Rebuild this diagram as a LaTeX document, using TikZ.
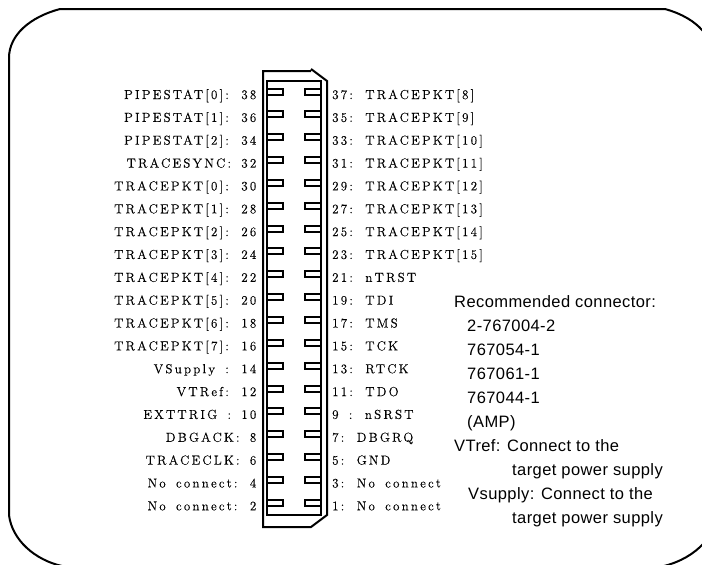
\documentclass[tikz,border=0pt]{standalone}
\usepackage{fontspec}
\newfontfamily\notefont[LetterSpace=2.5]{Liberation Sans}
\newfontfamily\pinfont[LetterSpace=17,WordSpace=1.6,FakeBold=0.25]{Latin Modern Roman}
\begin{document}
\begin{tikzpicture}[
      x=1pt,y=-1pt,
      myline/.style={draw=black,line width=2pt},
      pinlabel/.style={inner sep=0pt,font=\pinfont\fontsize{13}{15}\selectfont},
      mynote/.style={anchor=base west,inner sep=0pt,font=\notefont\fontsize{16.5}{19}\selectfont}
      ]
      \useasboundingbox (0,0) rectangle (702,565);
      % panel outline runs past the right and bottom edges
      \draw [myline] (60,9) -- (665,9) .. controls (683,14) and (695,22) .. (702,30) -- (720,50)
         -- (720,525) -- (704,543) .. controls (694,554) and (680,562) .. (664,566)
         -- (62,566) .. controls (35,560) and (12,540) .. (9,515)
         -- (9,58) .. controls (9,35) and (30,17) .. (60,9) -- cycle;

      % connector shell
      \draw [myline] (311,71) -- (263,71) -- (263,527) -- (311,527) -- (327,515) -- (327,81) -- (311,69);
      \draw [myline] (267,81) rectangle (321,515);

    \foreach \i/\txtl/\txtr in {% row/left text/right text
      0/PIPESTAT[0]: 38/37: TRACEPKT[8],
      1/PIPESTAT[1]: 36/35: TRACEPKT[9],
      2/PIPESTAT[2]: 34/33: TRACEPKT[10],
      3/TRACESYNC: 32/31: TRACEPKT[11],
      4/TRACEPKT[0]: 30/29: TRACEPKT[12],
      5/TRACEPKT[1]: 28/27: TRACEPKT[13],
      6/TRACEPKT[2]: 26/25: TRACEPKT[14],
      7/TRACEPKT[3]: 24/23: TRACEPKT[15],
      8/TRACEPKT[4]: 22/21: nTRST,
      9/TRACEPKT[5]: 20/19: TDI,
      10/TRACEPKT[6]: 18/17: TMS,
      11/TRACEPKT[7]: 16/15: TCK,
      12/VSupply : 14/13: RTCK,
      13/VTRef: 12/11: TDO,
      14/EXTTRIG : 10/9 : nSRST,
      15/DBGACK: 8/7: DBGRQ,
      16/TRACECLK: 6/5: GND,
      17/No connect: 4/3: No connect,
      18/No connect: 2/1: No connect}
    {
       \pgfmathsetmacro{\ypin}{round(91.5+22.85*\i)}
       \pgfmathsetmacro{\ytxt}{99+22.85*\i}
       \draw [myline] (267,\ypin-3) -- (283,\ypin-3) -- (283,\ypin+3) -- (267,\ypin+3);
       \draw [myline] (321,\ypin-3) -- (305,\ypin-3) -- (305,\ypin+3) -- (321,\ypin+3);
       \node [pinlabel,anchor=base east] (l\i) at (256.5,\ytxt) {\txtl};
       \node [pinlabel,anchor=base west] (r\i) at (332,\ytxt) {\txtr};
    }

    \foreach \i/\x/\y/\txt in {% name/left/baseline/text
      n1/454/307/Recommended connector:,
      n2/467/331/2-767004-2,
      n3/467/355/767054-1,
      n4/467/379/767061-1,
      n5/467/403/767044-1,
      n6/467/427/(AMP),
      n7/454/451/VTref: Connect to the,
      n8/512/475/target power supply,
      n9/468/499/Vsupply: Connect to the,
      n10/512/523/target power supply}
       \node [mynote] (\i) at (\x,\y) {\txt};
    \end{tikzpicture}
\end{document}
